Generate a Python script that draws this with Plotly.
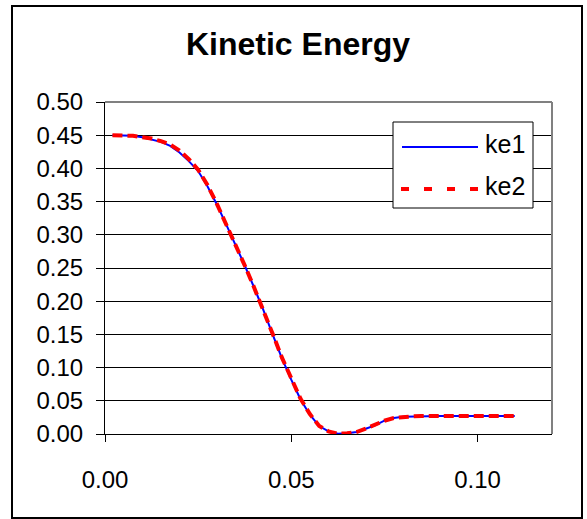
import plotly.graph_objects as go

# ---- data ----
t = [0.002, 0.005, 0.0075, 0.010, 0.0125, 0.015, 0.0175, 0.020, 0.0225, 0.025,
     0.0275, 0.030, 0.0325, 0.035, 0.0375, 0.040, 0.0425, 0.045, 0.0475, 0.050,
     0.0525, 0.055, 0.0575, 0.060, 0.0625, 0.065, 0.0675, 0.070, 0.0725, 0.075,
     0.0775, 0.080, 0.0825, 0.085, 0.0875, 0.090, 0.0925, 0.095, 0.0975, 0.100,
     0.1025, 0.105, 0.1075, 0.110]
ke1 = [0.450, 0.450, 0.449, 0.447, 0.444, 0.440, 0.434, 0.424, 0.411, 0.396,
       0.373, 0.346, 0.316, 0.286, 0.254, 0.221, 0.187, 0.150, 0.114, 0.082,
       0.052, 0.029, 0.012, 0.004, 0.0005, 0.001, 0.003, 0.008, 0.013, 0.020,
       0.024, 0.026, 0.0265, 0.027, 0.027, 0.027, 0.027, 0.027, 0.027, 0.027,
       0.027, 0.027, 0.027, 0.027]
ke2 = [0.450, 0.450, 0.449, 0.447, 0.445, 0.441, 0.436, 0.427, 0.414, 0.398,
       0.375, 0.347, 0.317, 0.287, 0.254, 0.221, 0.187, 0.151, 0.115, 0.083,
       0.053, 0.030, 0.012, 0.004, 0.0005, 0.001, 0.003, 0.008, 0.014, 0.020,
       0.024, 0.026, 0.0265, 0.027, 0.027, 0.027, 0.027, 0.027, 0.027, 0.027,
       0.027, 0.027, 0.027, 0.027]
series_names = ["ke1", "ke2"]
x_ticks = [0.0, 0.05, 0.10]
x_ticktext = ["0.00", "0.05", "0.10"]
title_text = "Kinetic Energy"

FONT = "Liberation Sans, Arial, sans-serif"
W, H = 587, 519
L, R, T, B = 105, 35, 102, 85
pw, ph = W - L - R, H - T - B

def px_x(p):
    return (p - L) / pw

def px_y(p):
    return (H - B - p) / ph

fig = go.Figure()
fig.add_trace(go.Scatter(x=t, y=ke1, mode="lines", name=series_names[0],
                         line=dict(color="#0000FF", width=2), showlegend=False))
fig.add_trace(go.Scatter(x=t, y=ke2, mode="lines", name=series_names[1],
                         line=dict(color="#FF0000", width=4, dash="10px,5px"),
                         showlegend=False))

shapes = []
# outer chart border
shapes.append(dict(type="rect", xref="paper", yref="paper",
                   x0=px_x(12), x1=px_x(582), y0=px_y(518), y1=px_y(6),
                   line=dict(color="black", width=2), layer="below"))
# gray plot-area border (top and right)
shapes.append(dict(type="line", xref="paper", yref="paper", x0=0, x1=1, y0=1, y1=1,
                   line=dict(color="#808080", width=2), layer="above"))
shapes.append(dict(type="line", xref="paper", yref="paper", x0=1, x1=1, y0=0, y1=1,
                   line=dict(color="#808080", width=2), layer="above"))
# legend box
shapes.append(dict(type="rect", xref="paper", yref="paper",
                   x0=px_x(393), x1=px_x(533), y0=px_y(208), y1=px_y(122),
                   fillcolor="white", line=dict(color="black", width=1), layer="above"))
shapes.append(dict(type="line", xref="paper", yref="paper",
                   x0=px_x(402), x1=px_x(478), y0=px_y(147), y1=px_y(147),
                   line=dict(color="#0000FF", width=2), layer="above"))
shapes.append(dict(type="line", xref="paper", yref="paper",
                   x0=px_x(401), x1=px_x(481), y0=px_y(189), y1=px_y(189),
                   line=dict(color="#FF0000", width=4, dash="8px,15px"), layer="above"))

annotations = [
    dict(text=series_names[0], xref="paper", yref="paper", x=px_x(483), y=px_y(144),
         xanchor="left", yanchor="middle", showarrow=False,
         font=dict(family=FONT, size=25, color="black")),
    dict(text=series_names[1], xref="paper", yref="paper", x=px_x(483), y=px_y(186),
         xanchor="left", yanchor="middle", showarrow=False,
         font=dict(family=FONT, size=25, color="black")),
]

fig.update_layout(
    width=W, height=H,
    margin=dict(l=L, r=R, t=T, b=B),
    paper_bgcolor="white", plot_bgcolor="white",
    title=dict(text="<b>" + title_text + "</b>", x=298 / W, xref="container", xanchor="center",
               y=1 - 44 / H, yref="container", yanchor="middle",
               font=dict(family=FONT, size=32, color="black")),
    shapes=shapes,
    annotations=annotations,
    showlegend=False,
)
fig.update_xaxes(range=[0, 0.12], tickvals=x_ticks, ticktext=x_ticktext,
                 showgrid=False, zeroline=False,
                 showline=True, linecolor="black", linewidth=1,
                 ticks="outside", ticklen=7, tickcolor="black", tickwidth=1,
                 ticklabelstandoff=17,
                 tickfont=dict(family=FONT, size=24, color="black"))
fig.update_yaxes(range=[0, 0.5], dtick=0.05, tick0=0, tickformat=".2f",
                 showgrid=True, gridcolor="black", gridwidth=1, zeroline=False,
                 showline=True, linecolor="black", linewidth=1,
                 ticks="outside", ticklen=8, tickcolor="black", tickwidth=1,
                 ticklabelstandoff=8,
                 tickfont=dict(family=FONT, size=24, color="black"))

fig.write_html("out.html")
